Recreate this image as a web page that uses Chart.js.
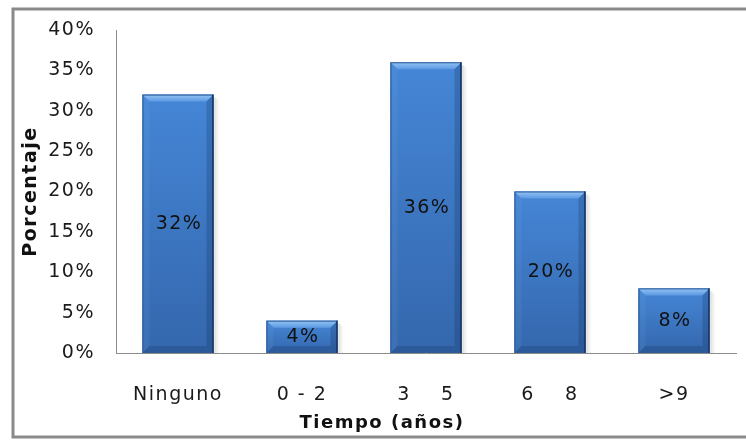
<!DOCTYPE html>
<html>
<head>
<meta charset="utf-8">
<title>Tiempo (años)</title>
<script src="https://cdn.jsdelivr.net/npm/chart.js@4/dist/chart.umd.min.js"></script>
<style>
  html, body { margin: 0; padding: 0; background: #ffffff; }
  canvas { display: block; }
</style>
</head>
<body>
<canvas id="c" width="746" height="441"></canvas>
<script>
// Years of experience groups and their share of respondents (%)
const categories = ['Ninguno', '0 - 2', '3    5', '6    8', '>9'];
const percentages = [32, 4, 36, 20, 8];
const yMin = 0;
const yMax = 40;
const yStep = 5;

const FONT = 'DejaVu Sans';
const TRACKING = '1.5px';

// Widen the lettering of every text run on the canvas
const trackingPlugin = {
  id: 'tracking',
  beforeUpdate(chart) { chart.ctx.letterSpacing = TRACKING; },
  beforeDraw(chart) { chart.ctx.letterSpacing = TRACKING; }
};

// Bevelled bar shading and centred value labels
const bevelPlugin = {
  id: 'bevel',
  afterDatasetsDraw(chart) {
    const ctx = chart.ctx;
    const meta = chart.getDatasetMeta(0);
    ctx.save();
    meta.data.forEach((bar, i) => {
      const l = bar.x - bar.width / 2;
      const r = bar.x + bar.width / 2;
      const t = bar.y;
      const b = bar.base;
      const h = b - t;
      const bv = Math.min(7, h / 3);

      // soft drop shadow on the right
      ctx.fillStyle = 'rgba(0,0,0,0.10)';
      ctx.fillRect(r, t + 3, 3, h - 3);
      ctx.fillStyle = 'rgba(0,0,0,0.05)';
      ctx.fillRect(r + 3, t + 5, 2, h - 5);

      // body gradient
      const g = ctx.createLinearGradient(0, t, 0, b);
      g.addColorStop(0, '#4586d6');
      g.addColorStop(1, '#3467ad');
      ctx.fillStyle = g;
      ctx.fillRect(l, t, r - l, h);

      // top bevel
      const gt = ctx.createLinearGradient(0, t, 0, t + bv);
      gt.addColorStop(0, '#94c4f5');
      gt.addColorStop(1, '#5c99e2');
      ctx.fillStyle = gt;
      ctx.beginPath();
      ctx.moveTo(l, t); ctx.lineTo(r, t);
      ctx.lineTo(r - bv, t + bv); ctx.lineTo(l + bv, t + bv);
      ctx.closePath(); ctx.fill();

      // left bevel
      ctx.fillStyle = 'rgba(120,170,230,0.12)';
      ctx.beginPath();
      ctx.moveTo(l, t); ctx.lineTo(l + bv, t + bv);
      ctx.lineTo(l + bv, b - bv); ctx.lineTo(l, b);
      ctx.closePath(); ctx.fill();

      // right bevel
      ctx.fillStyle = 'rgba(15,35,75,0.22)';
      ctx.beginPath();
      ctx.moveTo(r, t); ctx.lineTo(r - bv, t + bv);
      ctx.lineTo(r - bv, b - bv); ctx.lineTo(r, b);
      ctx.closePath(); ctx.fill();

      // bottom bevel
      ctx.fillStyle = 'rgba(15,40,85,0.22)';
      ctx.beginPath();
      ctx.moveTo(l, b); ctx.lineTo(l + bv, b - bv);
      ctx.lineTo(r - bv, b - bv); ctx.lineTo(r, b);
      ctx.closePath(); ctx.fill();

      // outline
      ctx.strokeStyle = '#2e5a96';
      ctx.lineWidth = 1;
      ctx.strokeRect(l + 0.5, t + 0.5, r - l - 1, h - 1);
      ctx.fillStyle = '#1e3b66';
      ctx.fillRect(r - 1.5, t, 1.5, h);

      // value label
      ctx.fillStyle = '#111111';
      ctx.font = '19px "' + FONT + '"';
      ctx.textAlign = 'center';
      ctx.textBaseline = 'middle';
      ctx.letterSpacing = TRACKING;
      ctx.fillText(percentages[i] + '%', bar.x + 1, (t + b) / 2);
    });
    ctx.restore();
  }
};

// Outer frame of the chart object
const framePlugin = {
  id: 'frame',
  afterDraw(chart) {
    const ctx = chart.ctx;
    ctx.save();
    ctx.fillStyle = '#ffffff';
    ctx.fillRect(0, 439, chart.width, 10);
    ctx.strokeStyle = '#8a8a8a';
    ctx.lineWidth = 3;
    ctx.strokeRect(13, 9, 800, 428);
    ctx.restore();
  }
};

new Chart(document.getElementById('c'), {
  type: 'bar',
  data: {
    labels: categories,
    datasets: [{
      data: percentages,
      backgroundColor: '#3d7bca',
      borderWidth: 0,
      barPercentage: 0.573,
      categoryPercentage: 1.0
    }]
  },
  options: {
    responsive: false,
    animation: false,
    devicePixelRatio: 1,
    layout: { padding: { left: 28, right: 10, top: 30, bottom: 0 } },
    plugins: {
      legend: { display: false },
      tooltip: { enabled: false },
      title: {
        display: true,
        position: 'bottom',
        text: 'Tiempo (años)',
        color: '#111111',
        font: { family: FONT, size: 18, weight: 'bold' },
        padding: { top: 8, bottom: 7 }
      }
    },
    scales: {
      x: {
        grid: { display: false, drawTicks: false },
        border: { display: true, color: '#8c8c8c', width: 1 },
        ticks: {
          color: '#1a1a1a',
          font: { family: FONT, size: 19 },
          padding: 31,
          maxRotation: 0,
          autoSkip: false
        },
        afterFit(scale) { scale.height = 51.4; }
      },
      y: {
        min: yMin,
        max: yMax,
        grid: { display: false, drawTicks: false },
        border: { display: true, color: '#8c8c8c', width: 1 },
        ticks: {
          stepSize: yStep,
          color: '#1a1a1a',
          font: { family: FONT, size: 19 },
          padding: 21,
          callback: v => v + '%'
        },
        title: {
          display: true,
          text: 'Porcentaje',
          color: '#111111',
          font: { family: FONT, size: 19, weight: 'bold' },
          padding: { top: -8, bottom: 0 }
        },
        afterFit(scale) {
          scale.width = 88;
          scale.paddingTop = 0;
          scale.paddingBottom = 0;
        }
      }
    }
  },
  plugins: [trackingPlugin, bevelPlugin, framePlugin]
});
</script>
</body>
</html>
